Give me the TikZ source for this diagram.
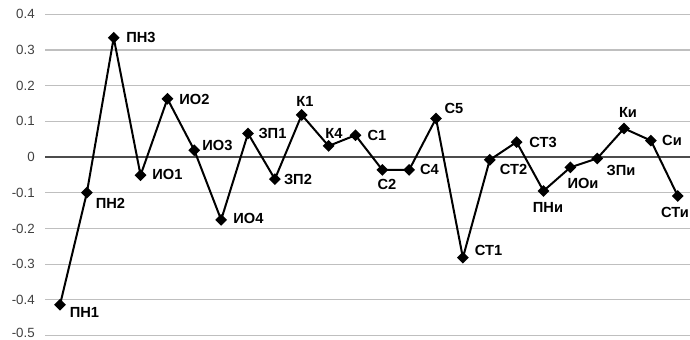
\documentclass[tikz,border=0pt]{standalone}
\usepackage{fontspec}
\setmainfont{Liberation Sans}
\usetikzlibrary{shapes.geometric}

\tikzset{
  grid line/.style={draw=black!25, line width=0.9pt},
  zero line/.style={draw=black!70, line width=1pt},
  series/.style={line width=1.5pt, line join=miter},
  mk/.style={diamond, fill=black, inner sep=0pt, minimum size=9pt},
  lbl/.style={font=\bfseries\fontsize{11}{12}\selectfont, inner sep=0pt},
  ticklbl/.style={font=\fontsize{10}{12}\selectfont, text=black!75, anchor=east, inner sep=0pt}
}

\begin{document}
\begin{tikzpicture}[x=0.75pt, y=267.75pt]
		\useasboundingbox (0,-0.5098) rectangle (690,0.4398);
		% grid and value axis
		\foreach \v in {0.4,0.3,0.2,0.1,-0.1,-0.2,-0.3,-0.4}{
			\draw[grid line] (45,\v) -- (690,\v);
			\node[ticklbl] (y\v) at (35,\v) {\v};
		}
		\draw[grid line] (45,-0.5) -- (690,-0.5);
		\node[ticklbl] (ymin) at (35,-0.494) {-0.5};
		\draw[zero line] (45,0) -- (690,0);
		\node[ticklbl] (y0) at (35,0) {0};
		% series
		\foreach \v [count=\i] in {-0.414,-0.100,0.334,-0.051,0.163,0.019,-0.176,0.066,-0.062,0.118,0.031,0.061,
				-0.036,-0.036,0.108,-0.282,-0.008,0.042,-0.095,-0.029,-0.004,0.080,0.046,-0.109}
			\coordinate (p\i) at ({60+(\i-1)*26.86},\v);
		\draw[series] (p1) \foreach \i in {2,...,24}{ -- (p\i)};
		\foreach \i in {1,...,24}
			\node[mk] (m\i) at (p\i) {};
		% point labels
		\foreach \t/\x/\y [count=\i] in {ПН1/84.5/-0.434, ПН2/110.5/-0.129, ПН3/141/0.334, ИО1/167.5/-0.050,
				ИО2/194.5/0.162, ИО3/217.5/0.031, ИО4/248.5/-0.171, ЗП1/272.5/0.067, ЗП2/298/-0.062,
				К1/305/0.155, К4/334/0.067, С1/377/0.059, С2/387/-0.078, С4/429.5/-0.036, С5/454/0.137,
				СТ1/488.5/-0.261, СТ2/513.5/-0.034, СТ3/543/0.042, ПНи/548/-0.140, ИОи/583/-0.073,
				ЗПи/621/-0.039, Ки/628/0.126, Си/672/0.045, СТи/675/-0.154}
			\node[lbl] (t\i) at (\x,\y) {\t};
	\end{tikzpicture}
\end{document}
